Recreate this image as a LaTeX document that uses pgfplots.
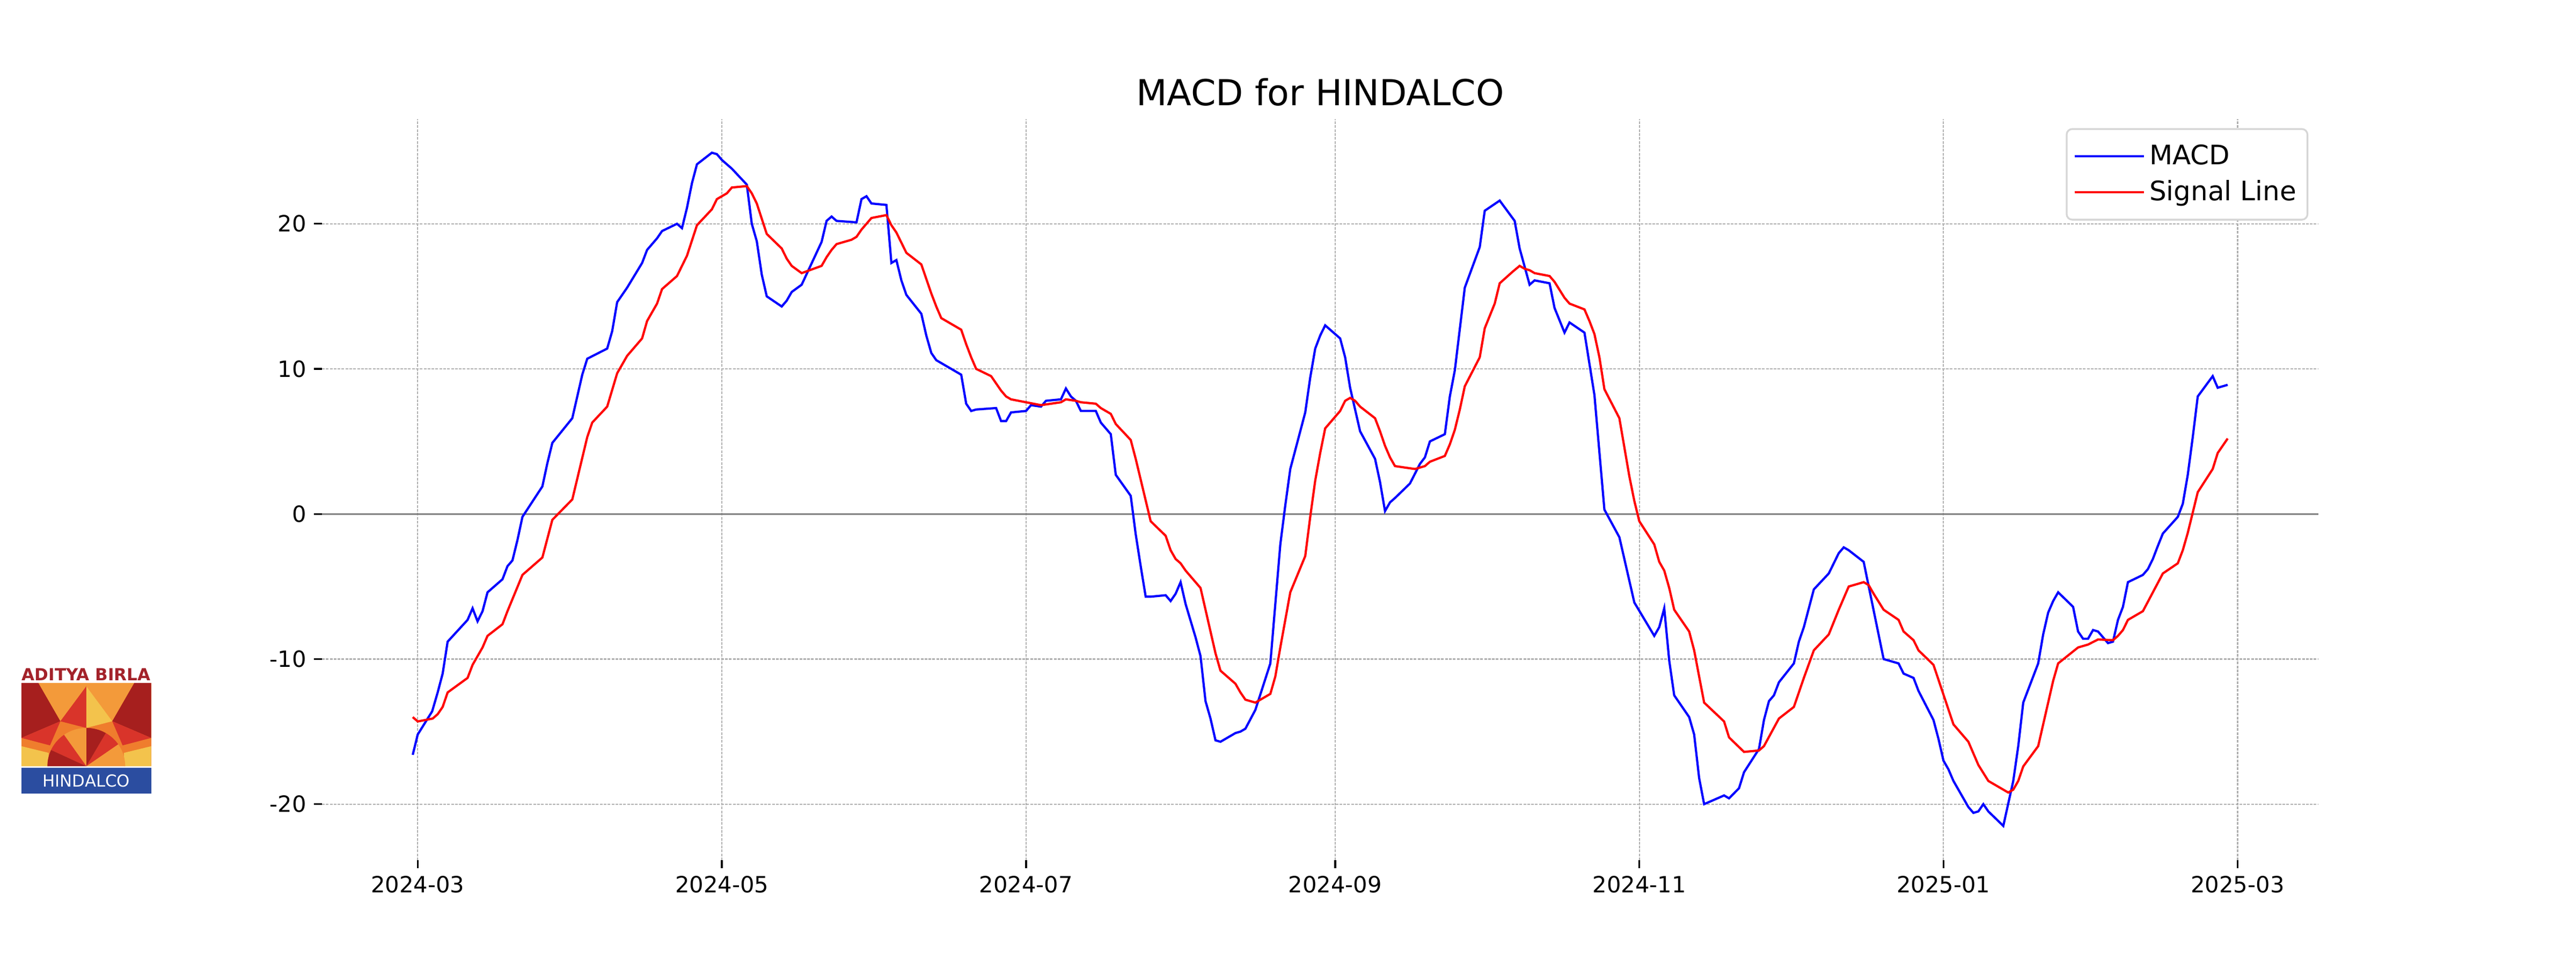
\documentclass[border=0pt]{standalone}
\usepackage{fontspec}
\setmainfont{DejaVu Sans}
\usepackage{graphicx}
\usepackage{pgfplots}
\pgfplotsset{compat=1.18}
\usepackage{pgfplotstable}

\definecolor{gridgray}{HTML}{B0B0B0}
\definecolor{zerogray}{HTML}{808080}
\definecolor{legframe}{HTML}{D6D6D6}
\definecolor{abred}{HTML}{A3222A}
\definecolor{lgdark}{HTML}{A61F1E}
\definecolor{lgred}{HTML}{D9342A}
\definecolor{lgorange}{HTML}{EF7D2D}
\definecolor{lglight}{HTML}{F39A3A}
\definecolor{lgyellow}{HTML}{F3C34C}
\definecolor{lgblue}{HTML}{2B4DA0}

% x = days since 2024-03-01
\pgfplotstableread{
day val
-1 -16.6
0 -15.2
2.9 -13.6
4 -12.3
5 -11.0
6 -8.8
10 -7.3
11 -6.5
12 -7.4
13 -6.7
14 -5.4
17 -4.5
18 -3.6
19 -3.2
20 -1.8
21 -0.2
25 1.9
26 3.5
27 4.9
31 6.6
33 9.6
34 10.7
38 11.4
39 12.6
40 14.6
42 15.6
45 17.3
46 18.2
48 19.0
49 19.5
52 20.0
53 19.7
54 21.1
55 22.8
56 24.1
59 24.9
60 24.8
61 24.4
63 23.8
66 22.7
67 20.0
68 18.8
69 16.5
70 15.0
73 14.3
74 14.7
75 15.3
77 15.8
81 18.75
82 20.2
83 20.5
84 20.2
88 20.1
89 21.7
90 21.9
91 21.4
94 21.3
95 17.3
96 17.5
97 16.1
98 15.1
101 13.8
102 12.3
103 11.1
104 10.6
109 9.6
110 7.6
111 7.1
112 7.2
116 7.3
117 6.4
118 6.4
119 7.0
122 7.1
123 7.5
125 7.4
126 7.8
129 7.9
130 8.65
131 8.1
132 7.8
133 7.1
136 7.1
137 6.3
139 5.5
140 2.7
143 1.25
144 -1.4
145 -3.6
146 -5.7
147 -5.7
150 -5.6
151 -6.0
152 -5.5
153 -4.7
154 -6.2
156 -8.5
157 -9.8
158 -12.9
159 -14.1
160 -15.6
161 -15.7
164 -15.1
165 -15.0
166 -14.8
168 -13.5
171 -10.3
173 -2.1
174 0.6
175 3.1
178 7.0
179 9.4
180 11.4
181 12.3
182 13.0
185 12.1
186 10.8
187 8.7
189 5.7
192 3.8
193 2.2
194 0.2
195 0.8
196 1.1
199 2.1
201 3.45
202 3.9
203 5.0
206 5.5
207 8.1
208 9.9
210 15.6
213 18.4
214 20.9
217 21.6
220 20.2
221 18.3
223 15.8
224 16.1
227 15.9
228 14.2
230 12.5
231 13.2
234 12.5
236 8.2
238 0.3
241 -1.6
244 -6.1
248 -8.4
249 -7.8
250 -6.5
251 -10.1
252 -12.5
255 -14.0
256 -15.2
257 -18.2
258 -20.0
262 -19.4
263 -19.6
265 -18.9
266 -17.8
269 -16.2
270 -14.2
271 -12.9
272 -12.5
273 -11.6
276 -10.3
277 -8.8
278 -7.8
280 -5.2
283 -4.1
285 -2.7
286 -2.3
287 -2.5
290 -3.3
294 -10.0
297 -10.3
298 -11.0
300 -11.3
301 -12.2
304 -14.2
305 -15.5
306 -17.0
307 -17.6
308 -18.4
311 -20.2
312 -20.6
313 -20.5
314 -20.0
315 -20.5
318 -21.5
320 -18.4
321 -16.0
322 -13.0
325 -10.3
326 -8.3
327 -6.8
328 -6.0
329 -5.4
332 -6.4
333 -8.1
334 -8.6
335 -8.6
336 -8.0
337 -8.1
339 -8.9
340 -8.8
341 -7.3
342 -6.4
343 -4.7
346 -4.2
347 -3.8
348 -3.1
349 -2.2
350 -1.35
353 -0.2
354 0.7
355 2.7
356 5.3
357 8.1
360 9.5
361 8.7
363 8.9
}\macd

\pgfplotstableread{
day val
-1 -14.0
0 -14.3
3 -14.1
4 -13.8
5 -13.3
6 -12.3
10 -11.3
11 -10.4
13 -9.2
14 -8.4
17 -7.6
18 -6.7
21 -4.2
25 -3.0
27 -0.4
31 1.0
34 5.3
35 6.3
38 7.4
40 9.7
42 10.9
45 12.1
46 13.3
48 14.5
49 15.5
52 16.4
54 17.8
56 19.9
59 21.0
60 21.7
62 22.1
63 22.5
66 22.6
67 22.1
68 21.4
70 19.3
73 18.3
74 17.6
75 17.1
77 16.6
81 17.1
82 17.7
83 18.2
84 18.6
87 18.9
88 19.1
89 19.6
90 20.0
91 20.4
94 20.6
95 19.9
96 19.4
97 18.7
98 18.0
101 17.2
102 16.2
103 15.2
104 14.3
105 13.5
109 12.7
110 11.7
111 10.8
112 10.0
115 9.5
116 9.0
117 8.5
118 8.1
119 7.9
125 7.5
129 7.7
130 7.9
132 7.8
133 7.7
136 7.6
137 7.3
139 6.9
140 6.2
143 5.1
144 3.8
147 -0.5
150 -1.5
151 -2.5
152 -3.1
153 -3.4
154 -3.9
157 -5.1
160 -9.6
161 -10.8
164 -11.7
165 -12.3
166 -12.8
168 -13.0
171 -12.4
172 -11.2
173 -9.2
175 -5.4
178 -2.9
179 -0.2
180 2.3
181 4.2
182 5.9
185 7.1
186 7.8
187 8.0
188 7.8
189 7.4
192 6.6
193 5.7
194 4.7
195 3.9
196 3.3
200 3.1
202 3.3
203 3.6
206 4.0
207 4.8
208 5.8
209 7.2
210 8.8
213 10.8
214 12.8
216 14.5
217 15.9
219.6 16.7
221 17.1
222 16.9
223 16.8
224 16.6
227 16.4
228 16.0
230 14.9
231 14.5
234 14.1
235 13.3
236 12.4
237 10.8
238 8.6
241 6.6
243 2.6
244 0.9
245 -0.5
248 -2.1
249 -3.3
250 -3.9
251 -5.1
252 -6.6
255 -8.1
256 -9.4
258 -13.0
262 -14.3
263 -15.4
266 -16.4
269 -16.3
270 -16.0
273 -14.1
276 -13.3
278 -11.3
280 -9.4
283 -8.3
285 -6.6
287 -5.0
290 -4.7
291 -4.9
292 -5.5
294 -6.6
297 -7.3
298 -8.1
300 -8.7
301 -9.4
304 -10.4
308 -14.5
311 -15.7
312 -16.5
313 -17.3
315 -18.4
319 -19.2
320 -19.0
321 -18.4
322 -17.4
325 -16.0
328 -11.5
329 -10.3
333 -9.2
335 -9.0
337 -8.65
340 -8.7
341 -8.4
342 -8.0
343 -7.3
346 -6.7
348 -5.4
350 -4.1
353 -3.4
354 -2.5
355 -1.3
356 0.1
357 1.5
360 3.1
361 4.2
363 5.2
}\signal

\begin{document}
\begin{tikzpicture}
\path[use as bounding box] (-144pt,-47.52pt) rectangle (1008pt,384.48pt);
\begin{axis}[
  at={(0pt,0pt)}, anchor=south west,
  width=892.8pt, height=331.2pt, scale only axis,
  xmin=-19.2, xmax=381.2, ymin=-23.86, ymax=27.21,
  axis line style={draw=none},
  xtick={0,61,122,184,245,306,365},
  xticklabels={2024-03,2024-05,2024-07,2024-09,2024-11,2025-01,2025-03},
  ytick={-20,-10,0,10,20},
  xtick pos=bottom, ytick pos=left,
  tick align=outside, major tick length=3.5pt,
  tick style={black, line width=0.8pt},
  /pgf/number format/assume math mode=true,
  tick label style={font=\fontsize{10}{12}\selectfont},
  grid=major,
  major grid style={gridgray, line width=0.5pt, dash pattern=on 1.2pt off 0.55pt},
  title={MACD for HINDALCO},
  title style={font=\fontsize{16}{19}\selectfont, at={(0.5,1)}, anchor=base, yshift=0pt},
  legend style={at={(1,1)}, anchor=north east, xshift=-4.5pt, yshift=-4pt,
    draw=legframe, line width=0.8pt, rounded corners=2.5pt,
    font=\fontsize{12}{14.4}\selectfont, inner xsep=3pt, inner ysep=5pt,
    row sep=1.5pt, cells={anchor=west}},
  legend image code/.code={\draw[#1] (0pt,0pt) -- (24pt,0pt); \path (0pt,0pt) -- (31pt,0pt);},
]
\draw[zerogray, line width=0.7pt] ({rel axis cs:0,0}|-{axis cs:0,0}) -- ({rel axis cs:1,0}|-{axis cs:0,0});
\addplot[blue, line width=1pt] table[x=day, y=val] {\macd};
\addlegendentry{MACD}
\addplot[red, line width=1pt] table[x=day, y=val] {\signal};
\addlegendentry{Signal Line}
\end{axis}

% logo
\node[anchor=base west, inner sep=0pt, text=abred] at (-134.4pt,80.4pt)
  {\resizebox{57.5pt}{!}{\textbf{ADITYA BIRLA}}};
\begin{scope}[shift={(-134.4pt,42pt)}, x=58pt, y=37.2pt]
  \fill[lgorange] (0,0) rectangle (1,1);
  \fill[lglight] (0.13,1) -- (0.5,1) -- (0.5,0.96) -- (0.30,0.54) -- cycle;
  \fill[lglight] (0.87,1) -- (0.5,1) -- (0.5,0.96) -- (0.70,0.54) -- cycle;
  \fill[lgdark] (0,1) -- (0.13,1) -- (0.30,0.54) -- (0,0.34) -- cycle;
  \fill[lgdark] (1,1) -- (0.87,1) -- (0.70,0.54) -- (1,0.34) -- cycle;
  \fill[lgred] (0.5,0.96) -- (0.30,0.54) -- (0.5,0.46) -- cycle;
  \fill[lgyellow] (0.5,0.96) -- (0.70,0.54) -- (0.5,0.46) -- cycle;
  \fill[lgred] (0,0.34) -- (0.30,0.54) -- (0.22,0.25) -- cycle;
  \fill[lgred] (1,0.34) -- (0.70,0.54) -- (0.78,0.25) -- cycle;
  \fill[lgyellow] (0,0) -- (0,0.24) -- (0.21,0.16) -- (0.21,0) -- cycle;
  \fill[lgyellow] (1,0) -- (1,0.24) -- (0.79,0.16) -- (0.79,0) -- cycle;
  \fill[lglight] (0.5,0) -- (0.8,0) arc[start angle=0, end angle=35, x radius=0.3, y radius=0.46] -- cycle;
  \fill[lgred] (0.5,0) -- ({0.5+0.3*cos(35)},{0.46*sin(35)}) arc[start angle=35, end angle=60, x radius=0.3, y radius=0.46] -- cycle;
  \fill[lgdark] (0.5,0) -- ({0.5+0.3*cos(60)},{0.46*sin(60)}) arc[start angle=60, end angle=90, x radius=0.3, y radius=0.46] -- cycle;
  \fill[lglight] (0.5,0) -- (0.5,0.46) arc[start angle=90, end angle=125, x radius=0.3, y radius=0.46] -- cycle;
  \fill[lgred] (0.5,0) -- ({0.5+0.3*cos(125)},{0.46*sin(125)}) arc[start angle=125, end angle=155, x radius=0.3, y radius=0.46] -- cycle;
  \fill[lgdark] (0.5,0) -- ({0.5+0.3*cos(155)},{0.46*sin(155)}) arc[start angle=155, end angle=180, x radius=0.3, y radius=0.46] -- cycle;
\end{scope}
\fill[lgblue] (-134.4pt,29.8pt) rectangle (-76.4pt,41.3pt);
\node[inner sep=0pt, text=white] at (-105.4pt,35.55pt) {\resizebox{39pt}{!}{HINDALCO}};
\end{tikzpicture}
\end{document}
